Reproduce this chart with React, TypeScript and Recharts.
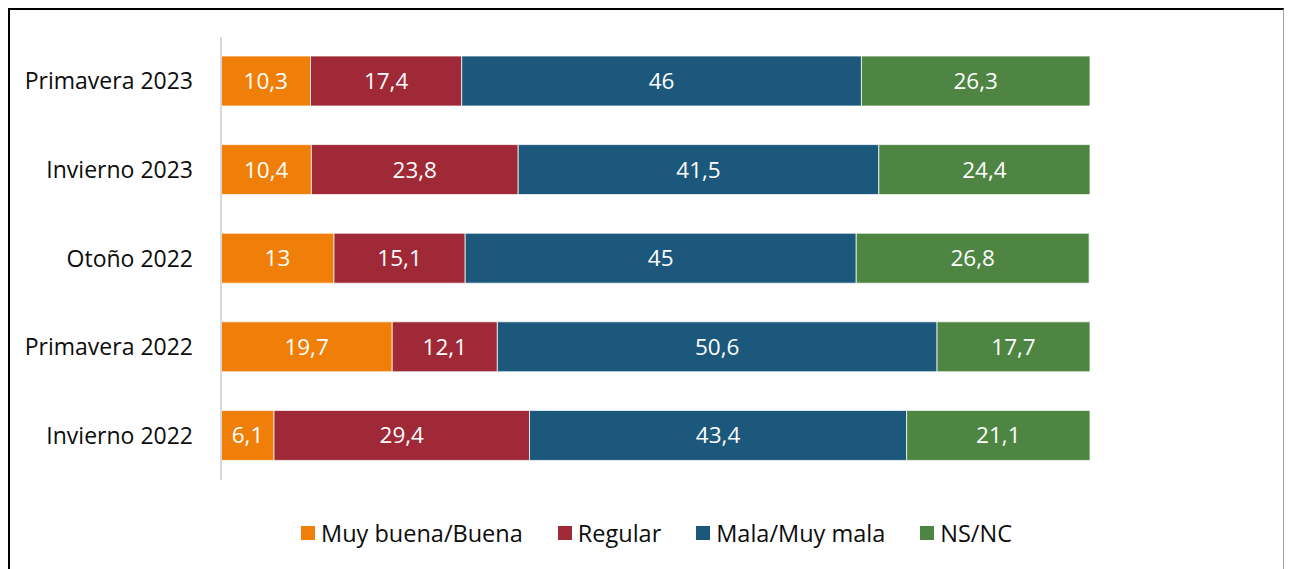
import { BarChart, Bar, XAxis, YAxis, Legend, LabelList } from "recharts";

const periods = [
  "Primavera 2023",
  "Invierno 2023",
  "Otoño 2022",
  "Primavera 2022",
  "Invierno 2022",
];
const muyBuena = [10.3, 10.4, 13, 19.7, 6.1];
const regular = [17.4, 23.8, 15.1, 12.1, 29.4];
const mala = [46, 41.5, 45, 50.6, 43.4];
const nsnc = [26.3, 24.4, 26.8, 17.7, 21.1];

const series = [
  { key: "muyBuena", name: "Muy buena/Buena", color: "#F07F09" },
  { key: "regular", name: "Regular", color: "#9F2936" },
  { key: "mala", name: "Mala/Muy mala", color: "#1B587C" },
  { key: "nsnc", name: "NS/NC", color: "#4E8542" },
];

const data = periods.map((p, i) => ({
  name: p,
  muyBuena: muyBuena[i],
  regular: regular[i],
  mala: mala[i],
  nsnc: nsnc[i],
}));

const FONT = "'Open Sans', sans-serif";

const fmt = (v: any) => String(v).replace(".", ",");

const LegendBox = () => (
  <div
    style={{
      display: "flex",
      justifyContent: "center",
      alignItems: "center",
      fontFamily: FONT,
      fontSize: 23.5,
      color: "#0d0d0d",
      height: 32,
      paddingLeft: 20,
    }}
  >
    {series.map((s, i) => (
      <div
        key={s.key}
        style={{ display: "flex", alignItems: "center", marginLeft: i === 0 ? 0 : 35 }}
      >
        <span
          style={{ width: 14, height: 14, background: s.color, marginRight: 6, display: "inline-block" }}
        />
        <span>{s.name}</span>
      </div>
    ))}
  </div>
);

const App = () => {
  return (
    <div
      style={{
        position: "relative",
        width: 1273,
        height: 570,
        borderTop: "2px solid #000",
        borderLeft: "2px solid #000",
        borderRight: "1px solid #a6a6a6",
        fontFamily: FONT,
      }}
    >
      <BarChart
        width={1273}
        height={560}
        data={data}
        layout="vertical"
        margin={{ top: 27, right: 193, left: 0, bottom: 58 }}
      >
        <XAxis type="number" domain={[0, 100]} allowDataOverflow hide />
        <YAxis
          type="category"
          dataKey="name"
          width={211}
          axisLine={{ stroke: "#D9D9D9", strokeWidth: 2 }}
          tickLine={false}
          tickSize={0}
          tickMargin={28}
          tick={{ fill: "#0d0d0d", fontSize: 23, fontFamily: FONT }}
        />
        <Legend
          verticalAlign="bottom"
          content={<LegendBox />}
          wrapperStyle={{ top: 507, bottom: "auto", left: 0, width: 1273 }}
        />
        {series.map((s) => (
          <Bar
            key={s.key}
            dataKey={s.key}
            name={s.name}
            stackId="a"
            fill={s.color}
            stroke="#ffffff"
            strokeWidth={0.75}
            barSize={50}
            isAnimationActive={false}
          >
            <LabelList
              dataKey={s.key}
              position="center"
              formatter={fmt}
              fill="#ffffff"
              style={{ fontSize: 22.5, fontFamily: FONT }}
            />
          </Bar>
        ))}
      </BarChart>
    </div>
  );
};

export default App;
